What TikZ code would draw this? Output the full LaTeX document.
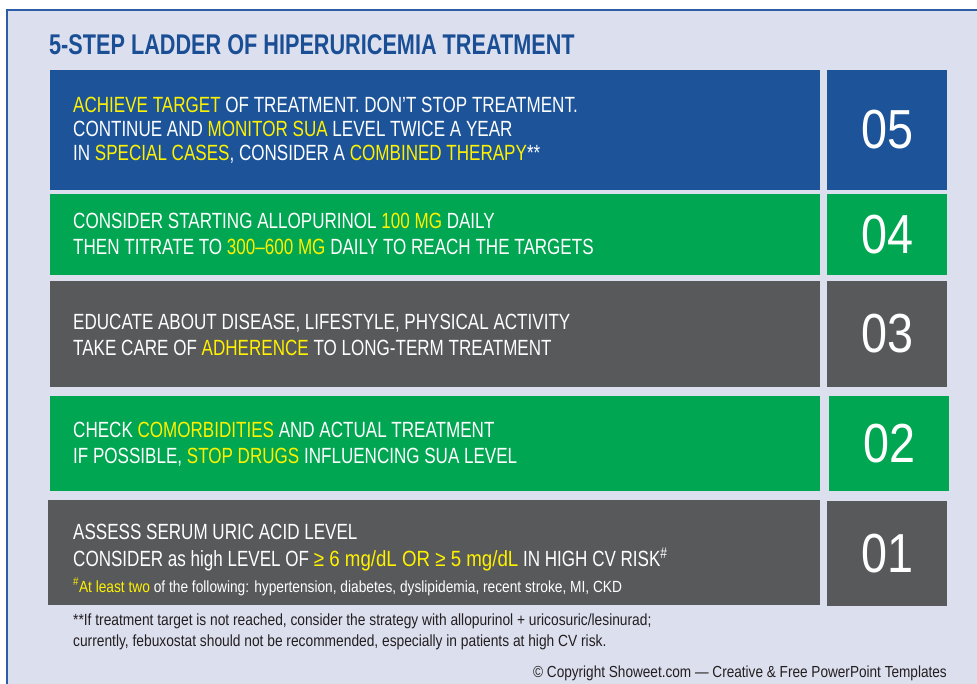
\documentclass[tikz,border=0pt]{standalone}
\usepackage{fontspec}
\setmainfont[FakeStretch=0.775]{Liberation Sans}
\newfontfamily\titlefont[FakeStretch=0.76]{Liberation Sans}
\newfontfamily\numfont[FakeStretch=0.85]{Liberation Sans}
\newfontfamily\notefont[FakeStretch=0.85]{Liberation Sans}

\definecolor{bgl}{HTML}{DCDFEE}
\definecolor{frameblue}{HTML}{2D5CA6}
\definecolor{boxblue}{HTML}{1D5499}
\definecolor{boxgreen}{HTML}{00A651}
\definecolor{boxgray}{HTML}{58595B}
\definecolor{hl}{HTML}{FFF200}
\definecolor{titleblue}{HTML}{1A4F95}
\definecolor{notetext}{HTML}{231F20}

\newcommand{\yl}[1]{\textcolor{hl}{#1}}

\tikzset{
  bar/.style={rectangle, inner sep=0pt, outer sep=0pt, anchor=north west, draw=none},
  numbox/.style={bar, text=white, font=\numfont\fontsize{55}{55}\selectfont},
  stepline/.style={anchor=base west, inner sep=0pt, text=white, font=\fontsize{22}{24}\selectfont},
  smallline/.style={anchor=base west, inner sep=0pt, text=white, font=\notefont\fontsize{16.15}{18}\selectfont},
  noteline/.style={anchor=base west, inner sep=0pt, text=notetext, font=\notefont\fontsize{16.2}{18}\selectfont},
}

\begin{document}
\begin{tikzpicture}[x=1pt, y=-1pt]
  \useasboundingbox (0,0) rectangle (977,683);
  \fill[white] (0,0) rectangle (977,683);
  % panel background with its border
  \draw[frameblue, line width=1.5pt, fill=bgl] (7,10) rectangle (1000,720);

  % heading
  \node[anchor=base west, inner sep=0pt, text=titleblue,
        font=\titlefont\bfseries\fontsize{28.5}{30}\selectfont] (title) at (49,54)
        {5-STEP LADDER OF HIPERURICEMIA TREATMENT};

  % step 05
  \node[bar, fill=boxblue, minimum width=770, minimum height=120] (s5) at (50,70) {};
  \node[numbox, fill=boxblue, minimum width=120, minimum height=120] (n5) at (827,70) {05};
  \node[stepline] (s5a) at (73,112) {\yl{ACHIEVE TARGET} OF TREATMENT. DON’T STOP TREATMENT.};
  \node[stepline] (s5b) at (73,136) {CONTINUE AND \yl{MONITOR SUA} LEVEL TWICE A YEAR};
  \node[stepline] (s5c) at (73,160) {IN \yl{SPECIAL CASES}, CONSIDER A \yl{COMBINED THERAPY}**};

  % step 04
  \node[bar, fill=boxgreen, minimum width=770, minimum height=81] (s4) at (50,194) {};
  \node[numbox, fill=boxgreen, minimum width=120, minimum height=81] (n4) at (827,194) {04};
  \node[stepline] (s4a) at (73,228) {CONSIDER STARTING ALLOPURINOL \yl{100 MG} DAILY};
  \node[stepline] (s4b) at (73,254) {THEN TITRATE TO \yl{300–600 MG} DAILY TO REACH THE TARGETS};

  % step 03
  \node[bar, fill=boxgray, minimum width=770, minimum height=106] (s3) at (50,281) {};
  \node[numbox, fill=boxgray, minimum width=120, minimum height=106] (n3) at (827,281) {03};
  \node[stepline] (s3a) at (73,329) {EDUCATE ABOUT DISEASE, LIFESTYLE, PHYSICAL ACTIVITY};
  \node[stepline] (s3b) at (73,355) {TAKE CARE OF \yl{ADHERENCE} TO LONG-TERM TREATMENT};

  % step 02
  \node[bar, fill=boxgreen, minimum width=770, minimum height=95] (s2) at (50,396) {};
  \node[numbox, fill=boxgreen, minimum width=120, minimum height=95] (n2) at (829,396) {02};
  \node[stepline] (s2a) at (73,437) {CHECK \yl{COMORBIDITIES} AND ACTUAL TREATMENT};
  \node[stepline] (s2b) at (73,463) {IF POSSIBLE, \yl{STOP DRUGS} INFLUENCING SUA LEVEL};

  % step 01
  \node[bar, fill=boxgray, minimum width=772, minimum height=105] (s1) at (48,500) {};
  \node[numbox, fill=boxgray, minimum width=120, minimum height=105] (n1) at (827,501) {01};
  \node[stepline] (s1a) at (73,539) {ASSESS SERUM URIC ACID LEVEL};
  \node[stepline] (s1b) at (73,566) {CONSIDER as high LEVEL OF \yl{\numfont ≥ 6 mg/dL OR ≥ 5 mg/dL} IN HIGH CV RISK\textsuperscript{\#}};
  \node[smallline] (s1c) at (73,592) {\textsuperscript{\yl{\#}}\yl{At least two} of the following: hypertension, diabetes, dyslipidemia, recent stroke, MI, CKD};

  % notes below the ladder
  \node[noteline] (note1) at (73,625) {**If treatment target is not reached, consider the strategy with allopurinol + uricosuric/lesinurad;};
  \node[noteline] (note2) at (73,646) {currently, febuxostat should not be recommended, especially in patients at high CV risk.};
  \node[anchor=base east, inner sep=0pt, text=notetext, font=\notefont\fontsize{16}{18}\selectfont] (credit) at (947,677)
        {© Copyright Showeet.com — Creative \& Free PowerPoint Templates};
\end{tikzpicture}
\end{document}
